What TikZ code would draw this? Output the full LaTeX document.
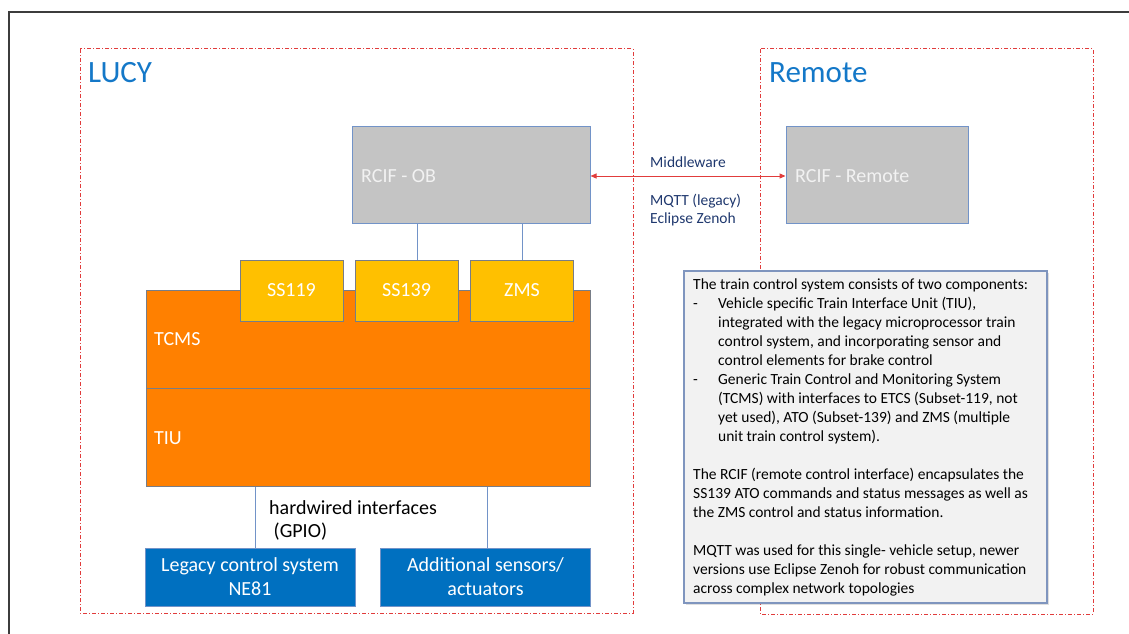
\documentclass[tikz,border=0pt]{standalone}
\usepackage{fontspec}
\setmainfont{Carlito}
\usetikzlibrary{arrows.meta,shadows}
\definecolor{bordblue}{RGB}{114,147,200}
\definecolor{grayfill}{RGB}{196,196,196}
\definecolor{orangefill}{RGB}{255,128,0}
\definecolor{yellowfill}{RGB}{255,192,0}
\definecolor{bluefill}{RGB}{0,112,192}
\definecolor{titleblue}{RGB}{20,120,200}
\definecolor{darkblue}{RGB}{31,56,110}
\definecolor{dashred}{RGB}{225,60,60}
\definecolor{notefill}{RGB}{242,242,242}
\definecolor{noteborder}{RGB}{127,149,190}
\definecolor{boxgrayline}{RGB}{120,125,135}
\definecolor{framegray}{RGB}{60,60,60}
\tikzset{
  region/.style={draw=dashred, line width=1pt, dash pattern=on 4pt off 2pt on 1pt off 2pt},
  regiontitle/.style={anchor=west, text=titleblue, font=\fontsize{31}{33}\selectfont, inner sep=0pt},
  graybox/.style={draw=bordblue, line width=1pt, fill=grayfill, minimum height=97pt, inner sep=0pt},
  boxlabel/.style={anchor=west, text=notefill, font=\fontsize{20}{22}\selectfont, inner sep=0pt},
  yellowbox/.style={draw=boxgrayline, line width=1pt, fill=yellowfill, minimum width=103pt, minimum height=61pt, text=white, font=\fontsize{20}{22}\selectfont, inner sep=0pt},
  orangebox/.style={draw=boxgrayline, line width=1pt, fill=orangefill, minimum width=444pt, minimum height=98pt, inner sep=0pt},
  bluebox/.style={draw=bordblue, line width=1pt, fill=bluefill, minimum width=210pt, minimum height=58pt, text=white, align=center, font=\fontsize{20}{24}\selectfont, inner sep=0pt},
  link/.style={draw=bordblue, line width=1pt},
  midlabel/.style={anchor=west, text=darkblue, font=\fontsize{15.5}{18}\selectfont, inner sep=0pt, align=left},
}
\begin{document}
\begin{tikzpicture}[x=1pt,y=-1pt]
\useasboundingbox (0,0) rectangle (1129,634);
% outer frame
\draw[framegray, line width=1.5pt] (9,634) -- (9,12) -- (1129,12);
% regions
\draw[region] (80,49) rectangle (633,613);
\draw[region] (760,49) rectangle (1093,614);
\node[regiontitle] (lucy) at (88,73) {LUCY};
\node[regiontitle] (remote) at (769,73) {Remote};
% gray boxes
\node[graybox, minimum width=238pt] (ob) at (471,174.5) {};
\node[boxlabel] (oblabel) at (361,176) {RCIF - OB};
\node[graybox, minimum width=182pt] (rem) at (877,175) {};
\node[boxlabel] (remlabel) at (795,176) {RCIF - Remote};
% middleware arrow
\draw[dashred, line width=1pt, {Triangle[length=6pt,width=5pt]}-{Triangle[length=6pt,width=5pt]}] (ob.east |- 0,176) -- (rem.west |- 0,176);
\node[midlabel] (mw) at (650,162) {Middleware};
\node[midlabel] (mq) at (650,210) {MQTT (legacy)\\Eclipse Zenoh};
% orange boxes
\node[orangebox] (tcms) at (368,339) {};
\node[orangebox] (tiu) at (368,437) {};
\node[boxlabel, text=white] (tcmslabel) at (154,339) {TCMS};
\node[boxlabel, text=white] (tiulabel) at (154,438) {TIU};
% yellow boxes
\node[yellowbox] (ss119) at (291.5,290.5) {SS119};
\node[yellowbox] (ss139) at (406.5,290.5) {SS139};
\node[yellowbox] (zms) at (522,290.5) {ZMS};
% links from OB
\draw[link] ([xshift=10.5pt]ss139.north) -- ([xshift=10.5pt]ss139.north |- ob.south);
\draw[link] (zms.north) -- (zms.north |- ob.south);
% blue boxes
\node[bluebox] (legacy) at (250,577) {Legacy control system\\NE81};
\node[bluebox] (addl) at (485.5,577) {Additional sensors/\\actuators};
\draw[link] ([xshift=5pt]legacy.north) -- ([xshift=5pt]legacy.north |- tiu.south);
\draw[link] ([xshift=1.5pt]addl.north) -- ([xshift=1.5pt]addl.north |- tiu.south);
\node[anchor=north west, inner sep=0pt, align=left, font=\fontsize{20}{23}\selectfont] (hw) at (269,500) {hardwired interfaces\\\ (GPIO)};
% note
\node[draw=noteborder, line width=1.2pt, fill=notefill, minimum width=363pt, minimum height=332pt, inner sep=0pt,
  drop shadow={opacity=0.25, shadow xshift=2pt, shadow yshift=-2pt}] (note) at (865.5,437) {};
\node[anchor=north west, inner sep=0pt, align=left, font=\fontsize{15.5}{19}\selectfont] (notetext) at (693,278.5) {%
The train control system consists of two components:\\
\makebox[25pt][l]{-}Vehicle specific Train Interface Unit (TIU),\\
\hspace*{25pt}integrated with the legacy microprocessor train\\
\hspace*{25pt}control system, and incorporating sensor and\\
\hspace*{25pt}control elements for brake control\\
\makebox[25pt][l]{-}Generic Train Control and Monitoring System\\
\hspace*{25pt}(TCMS) with interfaces to ETCS (Subset-119, not\\
\hspace*{25pt}yet used), ATO (Subset-139) and ZMS (multiple\\
\hspace*{25pt}unit train control system).\\[19pt]
The RCIF (remote control interface) encapsulates the\\
SS139 ATO commands and status messages as well as\\
the ZMS control and status information.\\[19pt]
MQTT was used for this single- vehicle setup, newer\\
versions use Eclipse Zenoh for robust communication\\
across complex network topologies};
\end{tikzpicture}
\end{document}
